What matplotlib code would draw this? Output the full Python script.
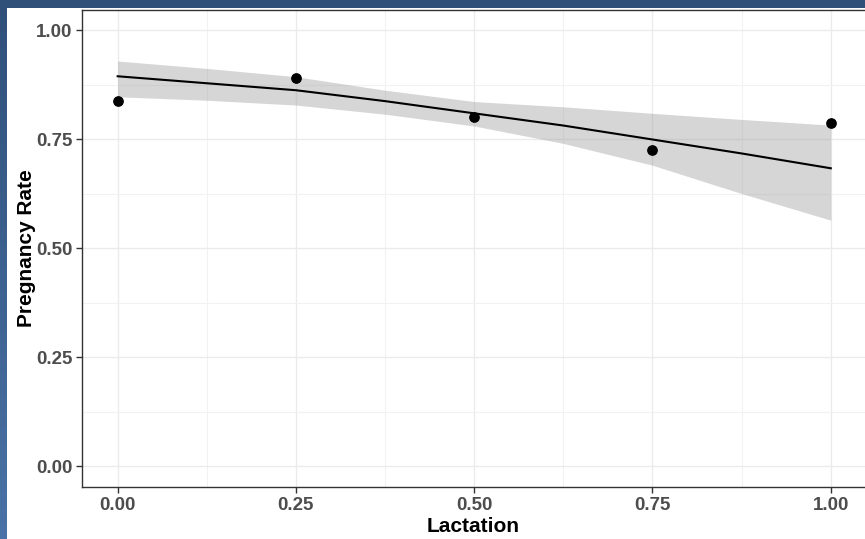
import numpy as np
import matplotlib
matplotlib.use('Agg')
import matplotlib.pyplot as plt
from matplotlib.ticker import MultipleLocator
from matplotlib.colors import LinearSegmentedColormap

plt.rcParams['font.family'] = ['Liberation Sans', 'DejaVu Sans']

# observed pregnancy rates
lactation = [0.0, 0.25, 0.5, 0.75, 1.0]
preg_rate = [0.837, 0.889, 0.800, 0.725, 0.787]

# fitted curve and confidence band
fit_x = [0.0, 0.125, 0.25, 0.375, 0.5, 0.625, 0.75, 0.875, 1.0]
fit_y = [0.894, 0.878, 0.862, 0.837, 0.809, 0.781, 0.749, 0.717, 0.683]
fit_hi = [0.929, 0.912, 0.893, 0.862, 0.836, 0.824, 0.809, 0.795, 0.782]
fit_lo = [0.847, 0.839, 0.828, 0.807, 0.780, 0.740, 0.690, 0.625, 0.564]

ticks = [0.0, 0.25, 0.5, 0.75, 1.0]

W, H = 865, 539
fig = plt.figure(figsize=(W / 100, H / 100), dpi=100)
fig.patch.set_facecolor('white')

# blue frame strips on the left and top
grad = np.linspace(0, 1, 256).reshape(-1, 1)
cm = LinearSegmentedColormap.from_list('frame', ['#30507a', '#4a72a6'])
side = fig.add_axes([0, 0, 7 / W, 1])
side.imshow(grad, aspect='auto', cmap=cm)
side.axis('off')
top = fig.add_axes([0, 1 - 8 / H, 1, 8 / H])
top.set_facecolor('#30507a')
top.set_xticks([])
top.set_yticks([])
for s in top.spines.values():
    s.set_visible(False)

ax = fig.add_axes([82 / W, 52 / H, (W - 82) / W, 477 / H])
ax.set_facecolor('white')

ax.fill_between(fit_x, fit_lo, fit_hi, color='#999999', alpha=0.4, linewidth=0, zorder=2)
ax.plot(fit_x, fit_y, color='black', linewidth=1.5, zorder=3)
ax.scatter(lactation, preg_rate, s=45, color='black', zorder=4)

ax.set_xlim(-0.05, 1.048)
ax.set_ylim(-0.048, 1.046)
ax.set_xticks(ticks)
ax.set_yticks(ticks)
ax.xaxis.set_minor_locator(MultipleLocator(0.125))
ax.yaxis.set_minor_locator(MultipleLocator(0.125))
ax.set_xticklabels(['%.2f' % t for t in ticks])
ax.set_yticklabels(['%.2f' % t for t in ticks])

ax.grid(which='major', color='#ebebeb', linewidth=1.0, zorder=0)
ax.grid(which='minor', color='#f2f2f2', linewidth=0.8, zorder=0)
ax.set_axisbelow(True)

for s in ax.spines.values():
    s.set_color('#333333')
    s.set_linewidth(1.0)
ax.spines['right'].set_visible(False)

ax.tick_params(which='major', length=4, width=1, color='#333333',
               labelsize=13.5, labelcolor='#4d4d4d', pad=3)
ax.tick_params(which='minor', length=0)
for lab in ax.get_xticklabels() + ax.get_yticklabels():
    lab.set_fontweight('bold')

ax.set_xlabel('Lactation', fontsize=15, fontweight='bold', labelpad=2)
ax.set_ylabel('Pregnancy Rate', fontsize=15, fontweight='bold', labelpad=0)

fig.savefig('out.png', dpi=100)
